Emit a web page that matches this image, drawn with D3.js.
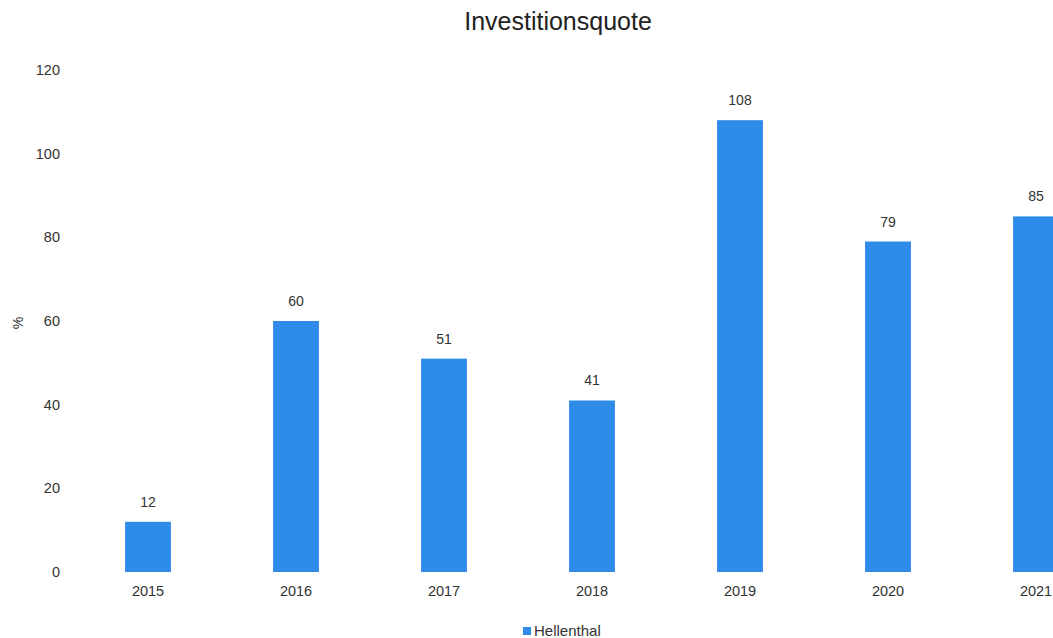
<!DOCTYPE html>
<html>
<head>
<meta charset="utf-8">
<script src="https://cdn.jsdelivr.net/npm/d3@7"></script>
<style>
  html, body { margin: 0; padding: 0; background: #fff; overflow: hidden; }
  svg { display: block; font-family: "Liberation Sans", Arial, sans-serif; }
</style>
</head>
<body>
<svg id="chart" width="1053" height="638"></svg>
<script>
const categories = ["2015", "2016", "2017", "2018", "2019", "2020", "2021"];
const values = [12, 60, 51, 41, 108, 79, 85];
const yTicks = [0, 20, 40, 60, 80, 100, 120];
const seriesName = "Hellenthal";
const title = "Investitionsquote";
const yLabel = "%";

const svg = d3.select("#chart");
const barColor = "#2E8BE8";
const textColor = "#333";

const x = d3.scaleBand().domain(categories).range([74, 1110])
  .paddingInner(0.69).paddingOuter(0.345);
const y = d3.scaleLinear().domain([0, 120]).range([572, 70]);

// title
svg.append("text").attr("x", 558).attr("y", 30)
  .attr("text-anchor", "middle").attr("font-size", 25).attr("fill", "#222")
  .text(title);

// y axis (labels only)
const yAxis = d3.axisLeft(y).tickValues(yTicks).tickSize(0).tickPadding(0);
const gy = svg.append("g").attr("transform", "translate(60,0)").call(yAxis);
gy.select(".domain").remove();
gy.selectAll("text").attr("font-size", 14.5).attr("fill", textColor)
  .attr("font-family", "Liberation Sans, Arial, sans-serif");

// y label
svg.append("text").attr("transform", "translate(23,323) rotate(-90)")
  .attr("text-anchor", "middle").attr("font-size", 14).attr("fill", textColor)
  .text(yLabel);

// x axis (labels only)
const xAxis = d3.axisBottom(x).tickSize(0).tickPadding(0);
const gx = svg.append("g").attr("transform", "translate(0,584)").call(xAxis);
gx.select(".domain").remove();
gx.selectAll("text").attr("font-size", 14.5).attr("fill", textColor)
  .attr("dy", "0.8em")
  .attr("font-family", "Liberation Sans, Arial, sans-serif");

// bars
svg.append("g").selectAll("rect").data(values).join("rect")
  .attr("x", (d, i) => x(categories[i]))
  .attr("width", x.bandwidth())
  .attr("y", d => y(d))
  .attr("height", d => y(0) - y(d))
  .attr("fill", barColor);

// value labels
svg.append("g").selectAll("text").data(values).join("text")
  .attr("x", (d, i) => x(categories[i]) + x.bandwidth() / 2)
  .attr("y", d => y(d) - 15)
  .attr("text-anchor", "middle").attr("font-size", 14).attr("fill", textColor)
  .text(d => d);

// legend
const lg = svg.append("g").attr("transform", "translate(523,627)");
lg.append("rect").attr("x", 0).attr("y", 0).attr("width", 8).attr("height", 8).attr("fill", barColor);
lg.append("text").attr("x", 11).attr("y", 9).attr("font-size", 15).attr("fill", textColor)
  .text(seriesName);
</script>
</body>
</html>
